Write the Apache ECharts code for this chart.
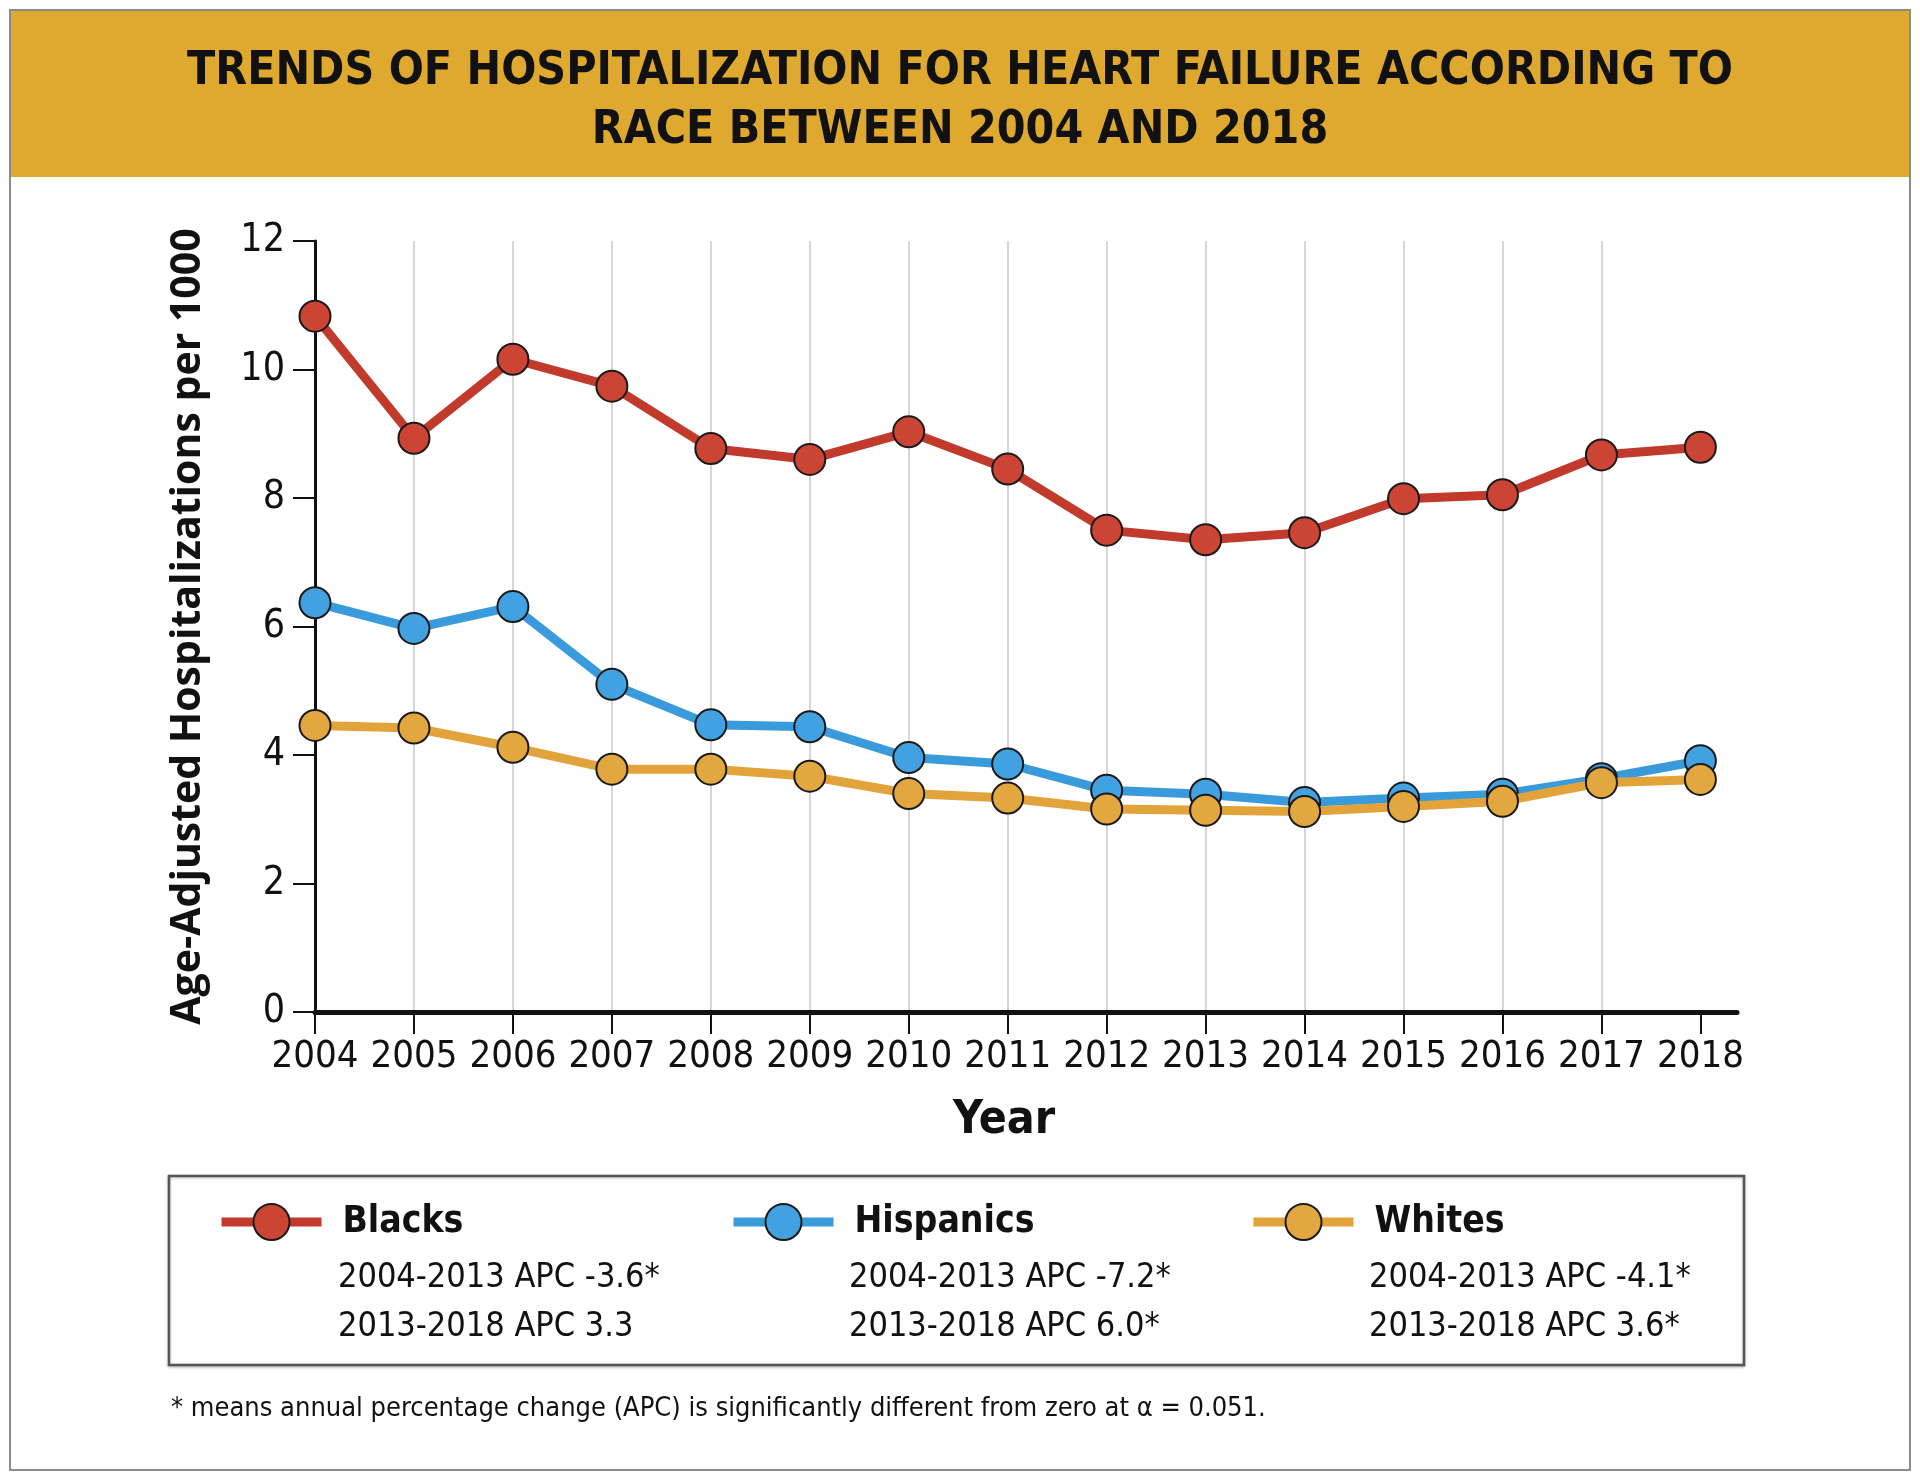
<!DOCTYPE html>
<html><head><meta charset="utf-8">
<script src="https://cdn.jsdelivr.net/npm/echarts@6/dist/echarts.min.js"></script>
<style>html,body{margin:0;padding:0;background:#fff}#c{width:1920px;height:1478px}</style>
</head><body><div id="c"></div>
<script>
// ---- data ----
const years = [2004, 2005, 2006, 2007, 2008, 2009, 2010, 2011, 2012, 2013, 2014, 2015, 2016, 2017, 2018];
const blacks    = [10.83, 8.93, 10.16, 9.74, 8.77, 8.60, 9.03, 8.45, 7.50, 7.35, 7.46, 7.99, 8.05, 8.67, 8.79];
const hispanics = [6.37, 5.97, 6.31, 5.10, 4.47, 4.44, 3.96, 3.86, 3.45, 3.39, 3.26, 3.33, 3.39, 3.63, 3.91];
const whites    = [4.46, 4.42, 4.12, 3.78, 3.78, 3.67, 3.40, 3.33, 3.16, 3.14, 3.12, 3.20, 3.28, 3.57, 3.62];
const yTicks = [0, 2, 4, 6, 8, 10, 12];
const seriesNames = ['Blacks', 'Hispanics', 'Whites'];
const apcBlacks = ['2004-2013 APC -3.6*', '2013-2018 APC 3.3'];
const apcHispanics = ['2004-2013 APC -7.2*', '2013-2018 APC 6.0*'];
const apcWhites = ['2004-2013 APC -4.1*', '2013-2018 APC 3.6*'];
const titleText = 'TRENDS OF HOSPITALIZATION FOR HEART FAILURE ACCORDING TO\nRACE BETWEEN 2004 AND 2018';
const yAxisName = 'Age-Adjusted Hospitalizations per 1000';
const xAxisName = 'Year';
const footnote = '* means annual percentage change (APC) is significantly different from zero at \u03b1 = 0.051.';

// ---- style ----
const NARROW = "'Liberation Sans Narrow', 'DejaVu Sans Condensed', 'Roboto Condensed', 'Open Sans', sans-serif";
const lineColors = ['#C23A2B', '#3A9BDC', '#E2A33A'];
const fillColors = ['#CC4433', '#42A1E0', '#E3A73F'];
const apcAll = [apcBlacks, apcHispanics, apcWhites];
const seriesData = [blacks, hispanics, whites];
const legendLeft = [217, 729, 1249];
const textLeft = [338, 849, 1369];

const chart = echarts.init(document.getElementById('c'), null, {renderer: 'canvas'});

const series = seriesNames.map((name, i) => ({
  name: name,
  type: 'line',
  data: years.map((y, k) => [y, seriesData[i][k]]),
  symbol: 'circle',
  symbolSize: 31,
  lineStyle: {color: lineColors[i], width: 9},
  itemStyle: {color: fillColors[i], borderColor: '#1a1a1a', borderWidth: 2},
  emphasis: {disabled: true},
  z: 3 + i
}));

const legends = seriesNames.map((name, i) => ({
  data: [name],
  left: legendLeft[i],
  top: 1203,
  orient: 'horizontal',
  padding: 0,
  itemWidth: 100,
  itemHeight: 45,
  selectedMode: false,
  lineStyle: {width: 9},
  textStyle: {fontFamily: NARROW, fontWeight: 'bold', fontSize: 37, color: '#111', padding: [0, 0, 0, 16]}
}));

const graphics = [
  {type: 'rect', shape: {x: 10, y: 10, width: 1900, height: 1460}, style: {fill: '#fff', stroke: '#8c8c8c', lineWidth: 2}, z: -10},
  {type: 'rect', shape: {x: 11, y: 11, width: 1898, height: 166}, style: {fill: '#DFA92F'}, z: -9},
  {type: 'rect', shape: {x: 169, y: 1176, width: 1575, height: 189}, style: {fill: '#fff', stroke: '#555', lineWidth: 2.5, shadowColor: 'rgba(0,0,0,0.25)', shadowBlur: 3, shadowOffsetY: 1}, z: -8},
  {type: 'text', left: 171, top: 1395, style: {text: footnote, font: "27px " + NARROW, fill: '#111'}}
];
apcAll.forEach((lines, i) => {
  graphics.push({type: 'text', left: textLeft[i], top: 1254,
    style: {text: lines.join('\n'), font: "34px " + NARROW, lineHeight: 49, fill: '#111'}});
});

chart.setOption({
  backgroundColor: '#fff',
  animation: false,
  title: {
    text: titleText,
    left: 960,
    top: 43,
    padding: 0,
    textAlign: 'center',
    textStyle: {fontFamily: NARROW, fontWeight: 'bold', fontSize: 46, lineHeight: 59, color: '#111'}
  },
  legend: legends,
  grid: {left: 315, right: 183, top: 241, bottom: 466, containLabel: false},
  xAxis: {
    type: 'value',
    min: 2004,
    max: 2018.37,
    interval: 1,
    name: xAxisName,
    nameLocation: 'middle',
    nameGap: 86,
    nameTextStyle: {fontFamily: NARROW, fontWeight: 'bold', fontSize: 46, color: '#111', padding: [0, 44, 0, 0]},
    axisLine: {show: true, lineStyle: {color: '#111', width: 5}},
    axisTick: {show: true, length: 22, lineStyle: {color: '#111', width: 2}, customValues: years},
    axisLabel: {customValues: years, margin: 26, fontFamily: NARROW, fontSize: 38, color: '#111', formatter: v => String(v)},
    splitLine: {show: true, showMaxLine: false, showMinLine: false, lineStyle: {color: '#c9c9c9', width: 1.5}}
  },
  yAxis: {
    type: 'value',
    min: 0,
    max: 12,
    interval: 2,
    name: yAxisName,
    nameLocation: 'middle',
    nameRotate: 90,
    nameGap: 106,
    nameTextStyle: {fontFamily: "'Open Sans', Lato, sans-serif", fontWeight: 'bold', fontSize: 41, color: '#111'},
    axisLine: {show: true, lineStyle: {color: '#111', width: 3}},
    axisTick: {show: true, length: 22, lineStyle: {color: '#111', width: 2}},
    axisLabel: {margin: 30, fontFamily: NARROW, fontSize: 39, color: '#111', customValues: yTicks},
    splitLine: {show: false}
  },
  graphic: graphics,
  series: series
});
</script>
</body></html>
